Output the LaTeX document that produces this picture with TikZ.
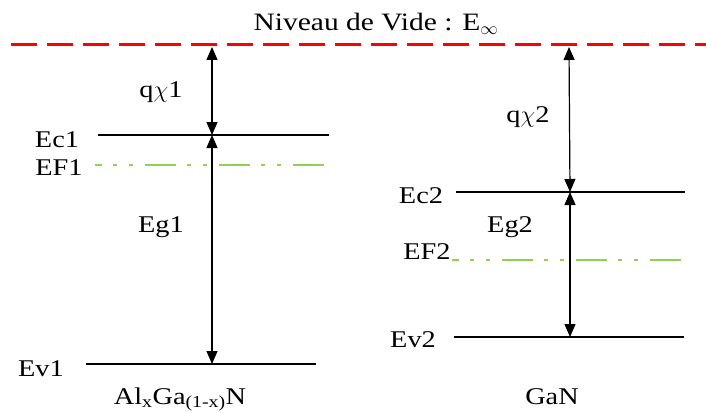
\RequirePackage{fix-cm}
\documentclass[tikz,border=0pt]{standalone}
\usepackage{fontspec}
\setmainfont{Liberation Serif}[FakeStretch=1.18]
\usetikzlibrary{arrows.meta}
\definecolor{vacred}{HTML}{FF0000}
\definecolor{fermigreen}{HTML}{92D050}
\tikzset{
  level/.style={line width=2.8pt, black},
  vacuum/.style={line width=3pt, vacred, dash pattern=on 26pt off 10pt},
  fermi/.style={line width=2.8pt, fermigreen,
     dash pattern=on 31pt off 11pt on 4pt off 12pt on 4pt off 12pt, dash phase=24pt},
  gap/.style={line width=1.2pt, {Triangle[length=13pt,width=11pt]}-{Triangle[length=13pt,width=11pt]}},
  lbl/.style={anchor=base, inner sep=0pt, font=\fontsize{24}{28}\selectfont},
}
\begin{document}
\begin{tikzpicture}[x=1pt,y=-1pt]
\useasboundingbox (0,0) rectangle (706,412);
% vacuum level
\coordinate (vacL) at (11,45);
\coordinate (vacR) at (706,45);
\draw[vacuum] (vacL) -- (vacR);
\node[lbl, font=\fontsize{25}{29}\selectfont] (title) at (376,31) {Niveau de Vide : E\textsubscript{$\infty$}};
% AlGaN levels
\coordinate (ec1L) at (98,135);  \coordinate (ec1R) at (329,135);
\coordinate (ef1L) at (95,165);  \coordinate (ef1R) at (326,165);
\coordinate (ev1L) at (86,364);  \coordinate (ev1R) at (316,364);
\draw[level] (ec1L) -- (ec1R);
\draw[fermi] (ef1L) -- (ef1R);
\draw[level] (ev1L) -- (ev1R);
% GaN levels
\coordinate (ec2L) at (456,192); \coordinate (ec2R) at (685,192);
\coordinate (ef2L) at (452,260); \coordinate (ef2R) at (682,260);
\coordinate (ev2L) at (454,337); \coordinate (ev2R) at (684,337);
\draw[level] (ec2L) -- (ec2R);
\draw[fermi] (ef2L) -- (ef2R);
\draw[level] (ev2L) -- (ev2R);
% arrows
\coordinate (v1) at (212,47);
\coordinate (c1) at (212,135);
\coordinate (b1) at (212,364);
\coordinate (v2) at (569,47);
\coordinate (c2) at (570,192);
\coordinate (b2) at (570,337);
\draw[gap] (v1) -- (c1);
\draw[gap] (c1) -- (b1);
\draw[gap] (v2) -- (c2);
\draw[gap] (c2) -- (b2);
% labels
\node[lbl] (chi1) at (161,97) {q$\chi$1};
\node[lbl] (lEc1) at (57,147) {Ec1};
\node[lbl] (lEF1) at (59,175) {EF1};
\node[lbl] (lEg1) at (161,232) {Eg1};
\node[lbl] (lEv1) at (41,376) {Ev1};
\node[lbl] (mat1) at (180,404) {Al\textsubscript{x}Ga\textsubscript{(1-x)}N};
\node[lbl] (chi2) at (528,122) {q$\chi$2};
\node[lbl] (lEc2) at (421,203) {Ec2};
\node[lbl] (lEg2) at (510,232) {Eg2};
\node[lbl] (lEF2) at (427,259) {EF2};
\node[lbl] (lEv2) at (413,347) {Ev2};
\node[lbl] (mat2) at (552,404) {GaN};
\end{tikzpicture}
\end{document}
